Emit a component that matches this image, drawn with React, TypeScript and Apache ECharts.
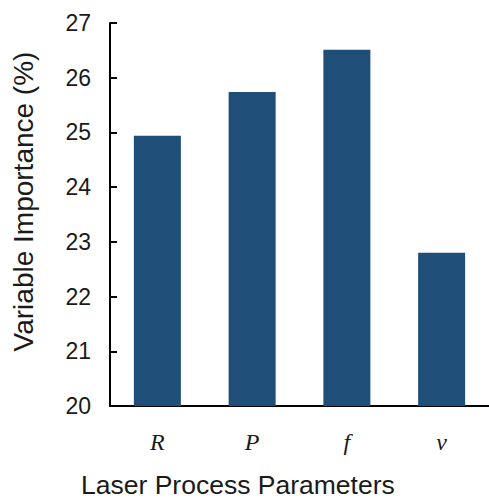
import React, { useEffect, useRef } from "react";
import * as echarts from "echarts";

const categories = ["R", "P", "f", "v"];
const importance = [24.94, 25.74, 26.51, 22.8];
const yTicks = [20, 21, 22, 23, 24, 25, 26, 27];

export default function App() {
  const ref = useRef<HTMLDivElement>(null);
  useEffect(() => {
    if (!ref.current) return;
    const chart = echarts.init(ref.current, null, { renderer: "svg" });
    chart.setOption({
      animation: false,
      backgroundColor: "#ffffff",
      title: {
        text: "Laser Process Parameters",
        left: 81,
        top: 471,
        padding: 0,
        textStyle: { fontFamily: "Liberation Sans", fontSize: 26.5, fontWeight: "normal", color: "#1a1a1a" },
      },
      grid: { left: 110, top: 23, width: 385, height: 383 },
      xAxis: {
        type: "category",
        data: categories,
        axisLine: { lineStyle: { color: "#000", width: 2 } },
        axisTick: { show: false },
        axisLabel: {
          margin: 24,
          fontFamily: "Liberation Serif",
          fontStyle: "italic",
          fontSize: 24,
          color: "#1a1a1a",
        },
      },
      yAxis: {
        type: "value",
        min: yTicks[0],
        max: yTicks[yTicks.length - 1],
        interval: 1,
        name: "Variable Importance (%)",
        nameLocation: "middle",
        nameGap: 73,
        nameTextStyle: { fontFamily: "Liberation Sans", fontSize: 28, color: "#1a1a1a", padding: [0, 0, 0, 26] },
        splitLine: { show: false },
        axisLine: { show: true, lineStyle: { color: "#000", width: 2 } },
        axisTick: { show: true, inside: true, length: 7, lineStyle: { color: "#000", width: 2 } },
        axisLabel: { margin: 19, fontFamily: "Liberation Sans", fontSize: 23, color: "#1a1a1a" },
      },
      series: [
        {
          type: "bar",
          data: importance,
          barWidth: 47,
          itemStyle: { color: "#1F4E79" },
        },
      ],
    });
    return () => chart.dispose();
  }, []);
  return (
    <div
      ref={ref}
      style={{ position: "absolute", left: 0, top: 0, width: 489, height: 498, overflow: "hidden" }}
    />
  );
}
